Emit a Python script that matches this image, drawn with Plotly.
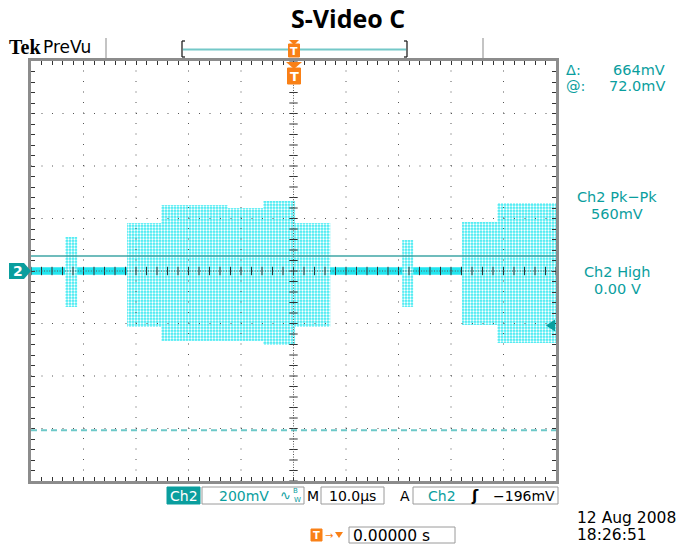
import plotly.graph_objects as go
import numpy as np

# ---------------- data ----------------
time_range = [-50.0, 50.0]      # µs  (10 µs/div, 10 div)
volt_range = [-0.8, 0.8]        # V   (200 mV/div, 8 div)
time_div = 10.0
volt_div = 0.2

# burst envelope segments (µs, V)
burst_id     = [0, 1, 1, 1, 1, 1, 2, 3, 3]
burst_start  = [-43.5, -31.7, -25.2, -12.5, -5.8, 0.3, 20.7, 32.1, 38.8]
burst_end    = [-41.2, -25.2, -12.5, -5.8, 0.3, 7.0, 22.8, 38.8, 50.0]
burst_top    = [0.130, 0.183, 0.251, 0.240, 0.267, 0.183, 0.118, 0.187, 0.259]
burst_bottom = [-0.137, -0.213, -0.267, -0.267, -0.282, -0.213, -0.137, -0.206, -0.274]
baseline_half = 0.014

cursor_upper = 0.057
cursor_delta = 0.664
trigger_level = -0.196

readout_cursor = [("Δ:", "664mV"), ("@:", "72.0mV")]
readout_meas = [("Ch2 Pk−Pk", "560mV"), ("Ch2 High", "0.00 V")]
title_text = "S-Video C"
date_lines = ["12 Aug 2008", "18:26:51"]

# ---------------- geometry helpers (layout only) ----------------
W, H = 696, 544
L, R, T, B = 31, 556, 61, 481
def X(px): return (px - L) / (R - L)
def Y(py): return (B - py) / (B - T)

TEAL = "#0A9E9E"
CYAN = "#3CEAF2"
ORANGE = "#F98016"
FONT = "DejaVu Sans"

fig = go.Figure()

# baseline trace band
fig.add_trace(go.Scatter(
    x=[time_range[0], time_range[1], time_range[1], time_range[0]],
    y=[-baseline_half, -baseline_half, baseline_half, baseline_half],
    fill="toself", mode="lines", line=dict(width=0), fillcolor="#22E6F0",
    hoverinfo="skip", showlegend=False))

# bursts as polygons built from envelope segments
for b in sorted(set(burst_id)):
    idx = [i for i, k in enumerate(burst_id) if k == b]
    xs, ys = [], []
    for i in idx:
        xs += [burst_start[i], burst_end[i]]
        ys += [burst_top[i], burst_top[i]]
    for i in reversed(idx):
        xs += [burst_end[i], burst_start[i]]
        ys += [burst_bottom[i], burst_bottom[i]]
    fig.add_trace(go.Scatter(
        x=xs, y=ys, fill="toself", mode="lines", line=dict(width=0),
        fillcolor=CYAN,
        fillpattern=dict(shape=".", fgcolor="white", bgcolor=CYAN,
                         size=3, solidity=0.45, fillmode="replace"),
        hoverinfo="skip", showlegend=False))

# cursors
fig.add_trace(go.Scatter(x=time_range, y=[cursor_upper, cursor_upper], mode="lines",
                         line=dict(color="#3FA6A6", width=1.6),
                         hoverinfo="skip", showlegend=False))
fig.add_trace(go.Scatter(x=time_range, y=[cursor_upper - cursor_delta] * 2, mode="lines",
                         line=dict(color="#6CC8C8", width=2, dash="6px,4px"),
                         hoverinfo="skip", showlegend=False))

# center cross ticks
minor_t = np.arange(time_range[0], time_range[1] + 1e-9, time_div / 5)
minor_v = np.arange(volt_range[0], volt_range[1] + 1e-9, volt_div / 5)
fig.add_trace(go.Scatter(x=minor_t, y=np.zeros_like(minor_t), mode="markers",
                         marker=dict(symbol="line-ns", size=6,
                                     line=dict(color="#333", width=1)),
                         hoverinfo="skip", showlegend=False))
fig.add_trace(go.Scatter(x=np.zeros_like(minor_v), y=minor_v, mode="markers",
                         marker=dict(symbol="line-ew", size=6,
                                     line=dict(color="#333", width=1)),
                         hoverinfo="skip", showlegend=False))

shapes = []
# graticule grid (dotted, above traces)
for t in np.arange(time_range[0] + time_div, time_range[1], time_div):
    dash = "1px,1.6px" if abs(t) < 1e-9 else "1px,9.5px"
    shapes.append(dict(type="line", xref="x", yref="paper", x0=t, x1=t, y0=0, y1=1,
                       line=dict(color="#555", width=1, dash=dash), layer="above"))
for v in np.arange(volt_range[0] + volt_div, volt_range[1] - 1e-9, volt_div):
    dash = "1px,1.6px" if abs(v) < 1e-9 else "1px,9.5px"
    shapes.append(dict(type="line", xref="paper", yref="y", x0=0, x1=1, y0=v, y1=v,
                       line=dict(color="#555", width=1, dash=dash), layer="above"))

def rect(x0, y0, x1, y1, fill="white", line="#9a9a9a", lw=1):
    shapes.append(dict(type="rect", xref="paper", yref="paper",
                       x0=X(x0), x1=X(x1), y0=Y(y1), y1=Y(y0),
                       fillcolor=fill, line=dict(color=line, width=lw), layer="above"))

def path(pts, fill, lw=0, line=None):
    d = "M " + " L ".join(f"{X(a):.5f},{Y(b):.5f}" for a, b in pts) + " Z"
    shapes.append(dict(type="path", xref="paper", yref="paper", path=d,
                       fillcolor=fill, line=dict(color=line or fill, width=lw), layer="above"))

def seg(x0, y0, x1, y1, color, w=1, dash=None):
    ln = dict(color=color, width=w)
    if dash: ln["dash"] = dash
    shapes.append(dict(type="line", xref="paper", yref="paper",
                       x0=X(x0), x1=X(x1), y0=Y(y0), y1=Y(y1), line=ln, layer="above"))

# top bar
seg(106, 38, 106, 58, "#c4c4c4", 2)
seg(483, 38, 483, 58, "#c4c4c4", 2)
seg(183, 49.5, 406, 49.5, "#74C8C8", 2)
seg(182, 41, 182, 57, "#222", 1.3); seg(182, 41, 185, 41, "#222", 1.3); seg(182, 57, 185, 57, "#222", 1.3)
seg(407, 41, 407, 57, "#222", 1.3); seg(407, 41, 404, 41, "#222", 1.3); seg(407, 57, 404, 57, "#222", 1.3)
# trigger position markers
path([(289, 40), (299, 40), (294, 45)], ORANGE)
rect(288.5, 44, 299.5, 57, fill=ORANGE, line=ORANGE)
path([(286, 62), (302, 62), (294, 69)], ORANGE)
rect(287.5, 68, 300.5, 84, fill=ORANGE, line=ORANGE)

# ch2 ground marker (left)
gy = (B - T) / 2 + T  # pixel y of 0 V
path([(9, gy - 8), (24, gy - 8), (31, gy), (24, gy + 8), (9, gy + 8)], TEAL)
# trigger level marker (right)
ty = gy - trigger_level / volt_div * (B - T) / 8 + 3
path([(546, ty), (555, ty - 6), (555, ty + 6)], TEAL)

# bottom row boxes
rect(167, 487, 200, 504, fill=TEAL, line=TEAL)
rect(202, 487, 304, 504)
rect(321, 487, 384, 504)
rect(413, 487, 558, 504)
rect(311, 529, 322, 541, fill=ORANGE, line=ORANGE)
path([(335, 532), (343, 532), (339, 538)], ORANGE)
rect(349, 527, 455, 543)

ann = []
def text(s, x, y, size=14, color="black", anchor="left", bold=False, family=FONT):
    ann.append(dict(text=f"<b>{s}</b>" if bold else s, x=X(x), y=Y(y),
                    xref="paper", yref="paper", xanchor=anchor, yanchor="middle",
                    showarrow=False, borderpad=0,
                    font=dict(size=size, color=color, family=family)))

text(title_text, 348, 18, 25, "black", "center", True, "Open Sans")
text("Tek", 8, 47, 20, "black", "left", True, "Liberation Serif")
text("PreVu", 42, 47, 17)
text("T", 294, 51, 11, "white", "center", True)
text("T", 294, 76, 13, "white", "center", True)
text("2", 17.5, gy, 14, "white", "center", True)

for i, (k, v) in enumerate(readout_cursor):
    yy = 69.5 + 16.5 * i
    text(k, 565, yy, 14.5, TEAL)
    text(v, 666, yy, 14.5, TEAL, "right")
for i, (k, v) in enumerate(readout_meas):
    y0 = 197 + 75 * i
    text(k, 617, y0, 14.5, TEAL, "center")
    text(v, 617, y0 + 16.5, 14.5, TEAL, "center")

text("Ch2", 183.5, 495.5, 14, "white", "center")
text("200mV", 218, 495.5, 14, TEAL)
text("∿", 285, 495.5, 13, TEAL, "center")
text("B", 295, 491, 7, TEAL, "center")
text("W", 297, 500, 7, TEAL, "center")
text("M", 313, 495.5, 14, "black", "center")
text("10.0µs", 352.5, 495.5, 14, "black", "center")
text("A", 405, 495.5, 14, "black", "center")
text("Ch2", 427, 495.5, 14, TEAL)
text("ʃ", 475, 495.5, 15, "black", "center", True)
text("−196mV", 556, 495.5, 14, "black", "right")
text("T", 316.5, 535, 10, "white", "center", True)
text("→", 329, 535, 10, ORANGE, "center")
text("0.00000 s", 352, 535.5, 15.5)
text(date_lines[0], 576, 518, 15.5)
text(date_lines[1], 576, 535, 15.5)

axis_common = dict(showgrid=False, zeroline=False, showticklabels=False,
                   ticks="inside", ticklen=4, tickwidth=1, tickcolor="#333",
                   showline=True, linecolor="#8c8c8c", linewidth=3, mirror="ticks",
                   fixedrange=True)
fig.update_layout(
    width=W, height=H,
    margin=dict(l=L, r=W - R, t=T, b=H - B, pad=0),
    paper_bgcolor="white", plot_bgcolor="white",
    xaxis=dict(range=time_range, dtick=time_div / 5, tick0=0, **axis_common),
    yaxis=dict(range=volt_range, dtick=volt_div / 5, tick0=0, **axis_common),
    shapes=shapes, annotations=ann, showlegend=False,
)

fig.write_html("out.html")
